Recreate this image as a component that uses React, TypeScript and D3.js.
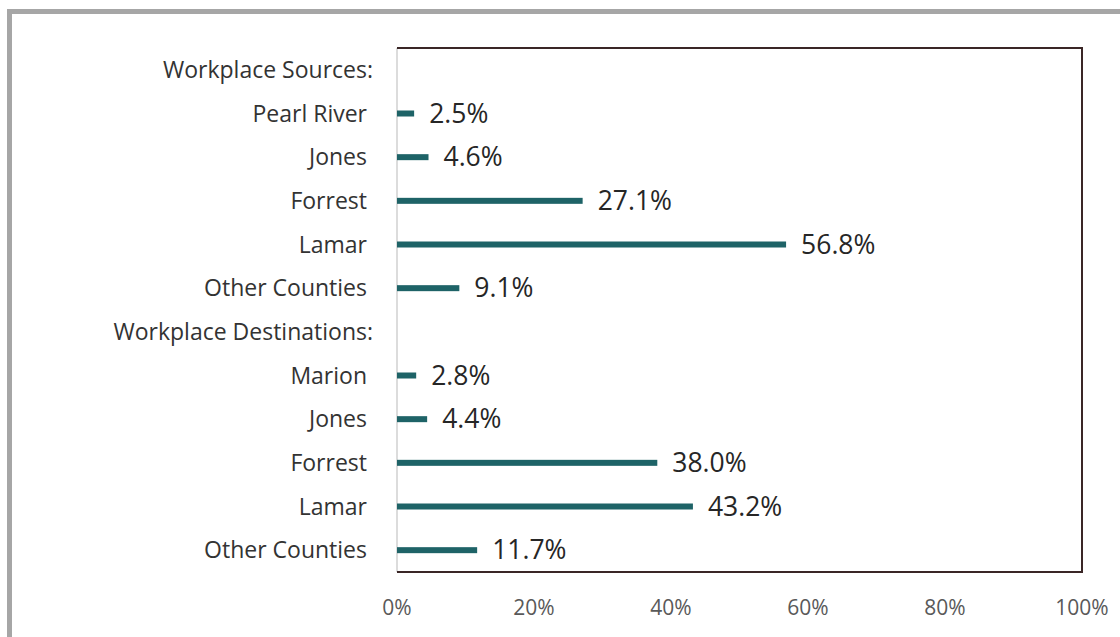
import { useEffect, useRef } from 'react';
import * as d3 from 'd3';

const categories = [
  'Workplace Sources:',
  'Pearl River',
  'Jones',
  'Forrest',
  'Lamar',
  'Other Counties',
  'Workplace Destinations:',
  'Marion',
  'Jones',
  'Forrest',
  'Lamar',
  'Other Counties',
];
const shares: (number | null)[] = [null, 2.5, 4.6, 27.1, 56.8, 9.1, null, 2.8, 4.4, 38.0, 43.2, 11.7];
const xTicks = [0, 20, 40, 60, 80, 100];

export default function App() {
  const svgRef = useRef<SVGSVGElement | null>(null);

  useEffect(() => {
    const svg = svgRef.current;
    if (!svg) return;

    const width = 1120;
    const height = 637;
    const margin = { top: 48, right: 38, bottom: 65, left: 397 };
    const font = '"Open Sans", Lato, sans-serif';

    const root = d3.select(svg);
    root.selectAll('*').remove();

    root.append('rect').attr('width', width).attr('height', height).attr('fill', '#ffffff');

    // outer gray frame (clipped on the right/bottom like the screenshot)
    root
      .append('rect')
      .attr('x', 9.5)
      .attr('y', 11.5)
      .attr('width', width + 20)
      .attr('height', height + 20)
      .attr('fill', 'none')
      .attr('stroke', '#a6a6a6')
      .attr('stroke-width', 5);

    const keys = categories.map((c, i) => `${i}|${c}`);

    const x = d3
      .scaleLinear()
      .domain([0, 100])
      .range([margin.left, width - margin.right]);

    const y = d3
      .scaleBand<string>()
      .domain(keys)
      .range([margin.top, height - margin.bottom]);

    // left axis line (light)
    root
      .append('line')
      .attr('x1', x(0))
      .attr('x2', x(0))
      .attr('y1', margin.top)
      .attr('y2', height - margin.bottom)
      .attr('stroke', '#d0d0d0')
      .attr('stroke-width', 1.5);

    // dark plot border on top, right, bottom
    root
      .append('path')
      .attr('d', `M${x(0)},${margin.top}H${x(100)}V${height - margin.bottom}H${x(0)}`)
      .attr('fill', 'none')
      .attr('stroke', '#3a2626')
      .attr('stroke-width', 2);

    // x tick labels
    root
      .append('g')
      .selectAll('text')
      .data(xTicks)
      .join('text')
      .attr('x', (d) => x(d))
      .attr('y', height - margin.bottom + 43)
      .attr('text-anchor', 'middle')
      .attr('font-family', font)
      .attr('font-size', 21)
      .attr('fill', '#595959')
      .text((d) => `${d}%`);

    // category labels
    root
      .append('g')
      .selectAll('text')
      .data(keys)
      .join('text')
      .attr('x', (d, i) => (shares[i] === null ? 373 : 367))
      .attr('y', (d) => y(d)! + y.bandwidth() / 2)
      .attr('dy', '0.35em')
      .attr('text-anchor', 'end')
      .attr('font-family', font)
      .attr('font-size', 23)
      .attr('fill', '#333333')
      .text((d) => d.split('|')[1]);

    const rows = keys
      .map((k, i) => ({ k, v: shares[i] }))
      .filter((r) => r.v !== null) as { k: string; v: number }[];

    const barH = 6;

    root
      .append('g')
      .selectAll('rect')
      .data(rows)
      .join('rect')
      .attr('x', x(0))
      .attr('y', (d) => y(d.k)! + y.bandwidth() / 2 - barH / 2)
      .attr('width', (d) => x(d.v) - x(0))
      .attr('height', barH)
      .attr('fill', '#1e6367');

    root
      .append('g')
      .selectAll('text')
      .data(rows)
      .join('text')
      .attr('x', (d) => x(d.v) + 15)
      .attr('y', (d) => y(d.k)! + y.bandwidth() / 2)
      .attr('dy', '0.35em')
      .attr('font-family', font)
      .attr('font-size', 26.5)
      .attr('fill', '#262626')
      .text((d) => `${d.v.toFixed(1)}%`);
  }, []);

  return (
    <svg
      ref={svgRef}
      width={1120}
      height={637}
      style={{ position: 'absolute', left: 0, top: 0, display: 'block' }}
    />
  );
}
